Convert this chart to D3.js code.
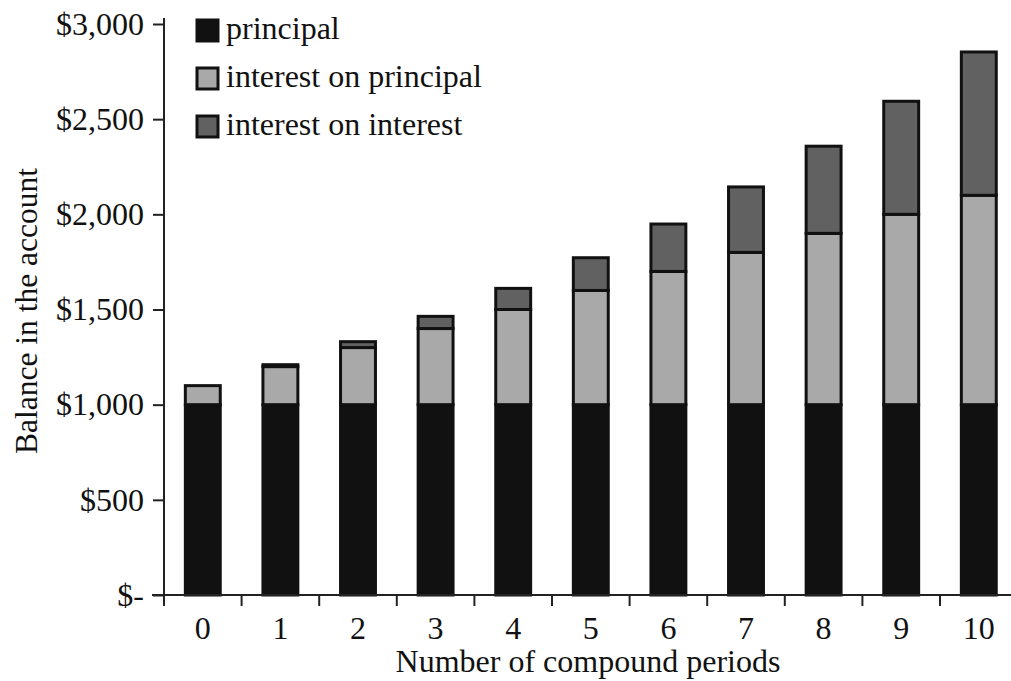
<!DOCTYPE html>
<html>
<head>
<meta charset="utf-8">
<script src="https://cdn.jsdelivr.net/npm/d3@7"></script>
<style>
  html, body { margin: 0; padding: 0; background: #fff; }
  svg { display: block; }
  text { font-family: "Liberation Serif", "Times New Roman", serif; fill: #111; }
</style>
</head>
<body>
<svg id="chart" width="1011" height="681"></svg>
<script>
// ---- data ----
const periods = ["0", "1", "2", "3", "4", "5", "6", "7", "8", "9", "10"];
const principal = [1000, 1000, 1000, 1000, 1000, 1000, 1000, 1000, 1000, 1000, 1000];
const interestOnPrincipal = [100, 200, 300, 400, 500, 600, 700, 800, 900, 1000, 1100];
const interestOnInterest = [0, 10, 31, 64, 111, 172, 249, 344, 458, 594, 753];
const yTicks = [0, 500, 1000, 1500, 2000, 2500, 3000];
const seriesNames = ["principal", "interest on principal", "interest on interest"];
const seriesColors = ["#111111", "#a9a9a9", "#616161"];

// ---- layout ----
const svg = d3.select("#chart");
const W = 1011, H = 681;
const x0 = 164, y0 = 595, yTop = 24;
const step = 77.6;
const fontSize = 32;

const x = d3.scaleBand()
  .domain(periods)
  .range([x0, x0 + step * periods.length])
  .paddingInner(0.55)
  .paddingOuter(0.275);

const y = d3.scaleLinear().domain([0, 3000]).range([y0, yTop]);

const rows = periods.map((p, i) => ({
  period: p,
  principal: principal[i],
  interestOnPrincipal: interestOnPrincipal[i],
  interestOnInterest: interestOnInterest[i]
}));
const keys = ["principal", "interestOnPrincipal", "interestOnInterest"];
const stacked = d3.stack().keys(keys)(rows);

// bars
const g = svg.append("g");
stacked.forEach((layer, li) => {
  g.selectAll(null)
    .data(layer.filter(d => d[1] - d[0] > 0))
    .enter()
    .append("rect")
    .attr("x", d => x(d.data.period))
    .attr("width", x.bandwidth())
    .attr("y", d => y(d[1]))
    .attr("height", d => y(d[0]) - y(d[1]))
    .attr("fill", seriesColors[li])
    .attr("stroke", "#111")
    .attr("stroke-width", 3);
});

// y axis
const yAxis = d3.axisLeft(y)
  .tickValues(yTicks)
  .tickSize(11)
  .tickPadding(9)
  .tickFormat(d => d === 0 ? "$-" : "$" + d3.format(",")(d));
const ya = svg.append("g").attr("transform", `translate(${x0},0)`).call(yAxis);
ya.select(".domain").attr("d", `M0,${yTop - 6}V${y0}`).attr("stroke", "#222").attr("stroke-width", 2);
ya.selectAll(".tick line").attr("stroke", "#222").attr("stroke-width", 2);
ya.selectAll(".tick text")
  .style("font-family", "'Liberation Serif', serif")
  .style("font-size", fontSize + "px")
  .attr("fill", "#111");

// x axis (ticks between categories)
const xa = svg.append("g").attr("transform", `translate(0,${y0})`);
xa.append("line")
  .attr("x1", x0 - 12).attr("x2", W)
  .attr("y1", 0).attr("y2", 0)
  .attr("stroke", "#222").attr("stroke-width", 2);
xa.selectAll(".xt")
  .data(periods)
  .enter()
  .append("line")
  .attr("x1", (p, i) => x0 + i * x.step())
  .attr("x2", (p, i) => x0 + i * x.step())
  .attr("y1", 0).attr("y2", 11)
  .attr("stroke", "#222").attr("stroke-width", 2);
xa.selectAll(".xl")
  .data(periods)
  .enter()
  .append("text")
  .attr("x", p => x(p) + x.bandwidth() / 2)
  .attr("y", 44)
  .attr("text-anchor", "middle")
  .style("font-size", fontSize + "px")
  .text(p => p);

// axis titles
svg.append("text")
  .attr("x", 588).attr("y", 672)
  .attr("text-anchor", "middle")
  .style("font-size", fontSize + "px")
  .text("Number of compound periods");

svg.append("text")
  .attr("transform", "translate(37,311) rotate(-90)")
  .attr("text-anchor", "middle")
  .style("font-size", "31.5px")
  .text("Balance in the account");

// legend
const leg = svg.append("g").attr("transform", "translate(196,19)");
seriesNames.forEach((name, i) => {
  const row = leg.append("g").attr("transform", `translate(0,${i * 48})`);
  row.append("rect")
    .attr("x", 1).attr("y", 1)
    .attr("width", 21).attr("height", 21)
    .attr("fill", seriesColors[i])
    .attr("stroke", "#111").attr("stroke-width", 3);
  row.append("text")
    .attr("x", 30).attr("y", 20)
    .style("font-size", fontSize + "px")
    .text(name);
});
</script>
</body>
</html>
